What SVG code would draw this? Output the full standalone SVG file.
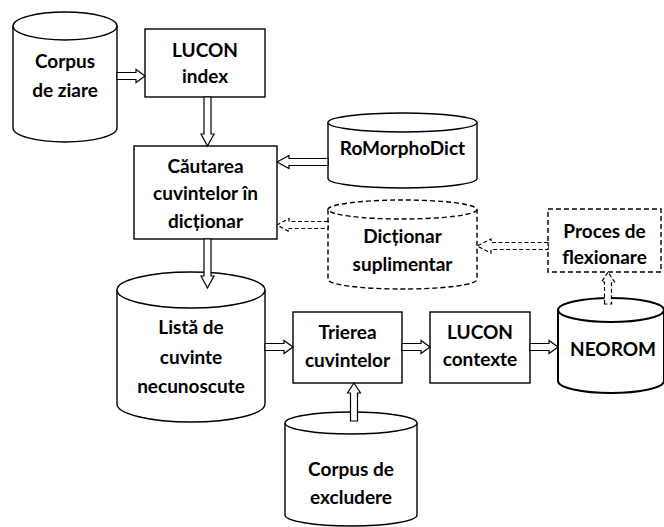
<svg xmlns="http://www.w3.org/2000/svg" width="664" height="527" viewBox="0 0 664 527">
<style>
.s{fill:#fff;stroke:#000;stroke-width:1.4}
.d{fill:#fff;stroke:#000;stroke-width:1.4;stroke-dasharray:5 3}
.a{fill:#fff;stroke:#000;stroke-width:1.2}
.ad{fill:#fff;stroke:#000;stroke-width:1.2;stroke-dasharray:4 2.5}
text{font-family:Lato,"Open Sans","Liberation Sans",sans-serif;font-weight:bold;font-size:19px;text-anchor:middle;fill:#000}
</style>
<rect width="664" height="527" fill="#fff"/>
<g id="corpus-ziare">
<path class="s" d="M13,26 V128 A52,14 0 0 0 117,128 V26"/>
<ellipse class="s" cx="65" cy="26" rx="52" ry="14"/>
<text x="65" y="68">Corpus</text>
<text x="65" y="97">de ziare</text>
</g>
<g id="lucon-index">
<rect class="s" x="145" y="29" width="120" height="68"/>
<text x="205" y="57">LUCON</text>
<text x="205" y="83">index</text>
</g>
<g id="cautarea">
<rect class="s" x="134" y="146" width="143" height="93"/>
<text x="205.5" y="173">Căutarea</text>
<text x="205.5" y="200">cuvintelor în</text>
<text x="205.5" y="228">dicționar</text>
</g>
<g id="romorphodict">
<path class="s" d="M328,122.5 V178.5 A74.5,9.5 0 0 0 477,178.5 V122.5"/>
<ellipse class="s" cx="402.5" cy="122.5" rx="74.5" ry="9.5"/>
<text x="402.5" y="155">RoMorphoDict</text>
</g>
<g id="dictionar-suplimentar">
<path class="d" d="M328,209.5 V279.5 A74.5,9.5 0 0 0 477,279.5 V209.5"/>
<ellipse class="d" cx="402.5" cy="209.5" rx="74.5" ry="9.5"/>
<text x="402.5" y="243">Dicționar</text>
<text x="402.5" y="271">suplimentar</text>
</g>
<g id="proces-flexionare">
<rect class="d" x="548" y="209" width="113" height="63"/>
<text x="604.5" y="238">Proces de</text>
<text x="604.5" y="264">flexionare</text>
</g>
<g id="lista">
<path class="s" d="M117,290 V404 A74,18 0 0 0 265,404 V290"/>
<ellipse class="s" cx="191" cy="290" rx="74" ry="18"/>
<text x="191" y="334">Listă de</text>
<text x="191" y="364">cuvinte</text>
<text x="191" y="393">necunoscute</text>
</g>
<g id="trierea">
<rect class="s" x="293" y="312" width="109" height="71"/>
<text x="347.5" y="339">Trierea</text>
<text x="347.5" y="367">cuvintelor</text>
</g>
<g id="lucon-contexte">
<rect class="s" x="430" y="312" width="100" height="71"/>
<text x="480" y="339">LUCON</text>
<text x="480" y="366">contexte</text>
</g>
<g id="neorom">
<path class="s" style="stroke-width:2" d="M558,310 V381 A53,12 0 0 0 664,381 V310"/>
<ellipse class="s" style="stroke-width:2" cx="611" cy="310" rx="53" ry="12"/>
<text x="613" y="356">NEOROM</text>
</g>
<g id="corpus-excludere">
<path class="s" d="M285,423 V515 A66,11 0 0 0 417,515 V423"/>
<ellipse class="s" cx="351" cy="423" rx="66" ry="11"/>
<text x="351" y="476">Corpus de</text>
<text x="351" y="504">excludere</text>
</g>
<g id="connectors">
<polygon class="a" points="117,72.5 136,72.5 136,69.5 145,76 136,82.5 136,79.5 117,79.5"/>
<polygon class="a" points="204,97 204,134 201,134 207.5,146 214,134 211,134 211,97"/>
<polygon class="a" points="328,158.5 289,158.5 289,155.5 277,162 289,168.5 289,165.5 328,165.5"/>
<polygon class="ad" points="328,221.5 289,221.5 289,218.5 277,225 289,231.5 289,228.5 328,228.5"/>
<polygon class="ad" points="548,242.5 491,242.5 491,239 477,246 491,253 491,249.5 548,249.5"/>
<polygon class="ad" points="604.5,304 604.5,282 601.5,282 608,272 614.5,282 611.5,282 611.5,304"/>
<polygon class="a" points="204,239 204,276 201,276 207.5,288 214,276 211,276 211,239"/>
<polygon class="a" points="265,343.5 284,343.5 284,340.5 293,347 284,353.5 284,350.5 265,350.5"/>
<polygon class="a" points="402,343.5 421,343.5 421,340.5 430,347 421,353.5 421,350.5 402,350.5"/>
<polygon class="a" points="530,343.5 549,343.5 549,340.5 558,347 549,353.5 549,350.5 530,350.5"/>
<polygon class="a" points="350.5,421 350.5,393 347.5,393 354,383 360.5,393 357.5,393 357.5,421"/>
</g>
</svg>
